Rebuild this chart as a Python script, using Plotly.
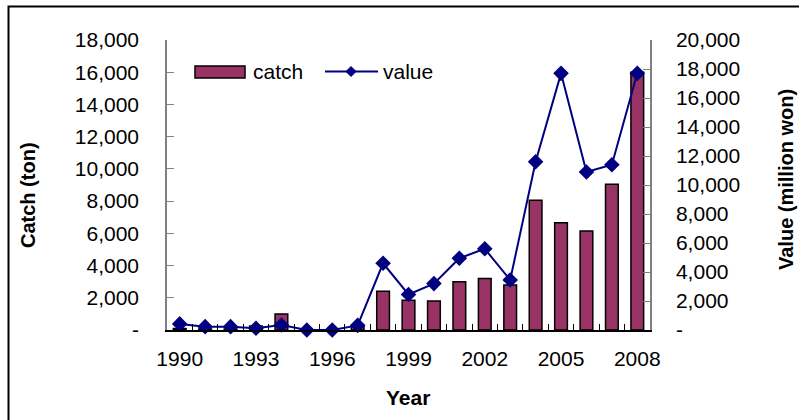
import plotly.graph_objects as go

years = list(range(1990, 2009))
catch = [100, 60, 60, 250, 1000, 0, 0, 250, 2400, 1850, 1800, 3000, 3200, 2800, 8050, 6650, 6150, 9050, 16000]
value = [420, 230, 230, 120, 340, 0, 0, 320, 4600, 2450, 3200, 4950, 5600, 3450, 11600, 17700, 10900, 11400, 17700]

x_tickvals = [1990, 1993, 1996, 1999, 2002, 2005, 2008]
x_ticktext = ["1990", "1993", "1996", "1999", "2002", "2005", "2008"]
y1_tickvals = [0, 2000, 4000, 6000, 8000, 10000, 12000, 14000, 16000, 18000]
y1_ticktext = ["-", "2,000", "4,000", "6,000", "8,000", "10,000", "12,000", "14,000", "16,000", "18,000"]
y2_tickvals = [0, 2000, 4000, 6000, 8000, 10000, 12000, 14000, 16000, 18000, 20000]
y2_ticktext = ["-", "2,000", "4,000", "6,000", "8,000", "10,000", "12,000", "14,000", "16,000", "18,000", "20,000"]

FONT = "Liberation Sans, Arial, sans-serif"
BAR_COLOR = "#993366"
LINE_COLOR = "#000080"

# plot area in pixels
L, R, T, B = 167, 650, 40, 330
W, H = 799, 420
pw, ph = R - L, B - T


def px(x):
    return (x - L) / pw


def py(y):
    return (B - y) / ph


xr = [years[0] - 0.5, years[-1] + 0.5]
boundaries = [y - 0.5 for y in years] + [years[-1] + 0.5]

fig = go.Figure()
fig.add_trace(go.Bar(
    x=years, y=catch, name="catch", width=0.5,
    marker=dict(color=BAR_COLOR, line=dict(color="black", width=1.5)),
    showlegend=False,
))
fig.add_trace(go.Scatter(
    x=years, y=value, name="value", xaxis="x2", yaxis="y2", mode="lines+markers",
    line=dict(color=LINE_COLOR, width=2),
    marker=dict(symbol="diamond", size=12, color=LINE_COLOR),
    showlegend=False, cliponaxis=False,
))

shapes = [
    # outer frame
    dict(type="rect", xref="paper", yref="paper",
         x0=px(8.5), x1=px(900), y0=py(500), y1=py(6.5),
         line=dict(color="black", width=2), layer="below"),
    # legend patch
    dict(type="rect", xref="paper", yref="paper",
         x0=px(195), x1=px(245), y0=py(78), y1=py(66),
         fillcolor=BAR_COLOR, line=dict(color="black", width=1.5)),
    # legend line
    dict(type="line", xref="paper", yref="paper",
         x0=px(325), x1=px(378), y0=py(71.5), y1=py(71.5),
         line=dict(color=LINE_COLOR, width=2)),
    # legend diamond
    dict(type="path", xref="paper", yref="paper",
         path="M {a},{b} L {c},{d} L {a},{e} L {f},{d} Z".format(
             a=px(351), b=py(66.5), c=px(356), d=py(71.5), e=py(76.5), f=px(346)),
         fillcolor=LINE_COLOR, line=dict(color=LINE_COLOR, width=1)),
]

annotations = [
    dict(text="catch", xref="paper", yref="paper", x=px(251), y=py(71),
         xanchor="left", yanchor="middle", showarrow=False,
         font=dict(family=FONT, size=21, color="black")),
    dict(text="value", xref="paper", yref="paper", x=px(381), y=py(71),
         xanchor="left", yanchor="middle", showarrow=False,
         font=dict(family=FONT, size=21, color="black")),
    dict(text="<b>Catch (ton)</b>", xref="paper", yref="paper", x=px(28), y=py(195),
         xanchor="center", yanchor="middle", textangle=-90, showarrow=False,
         font=dict(family=FONT, size=20, color="black")),
    dict(text="<b>Value (million won)</b>", xref="paper", yref="paper", x=px(786), y=py(180),
         xanchor="center", yanchor="middle", textangle=-90, showarrow=False,
         font=dict(family=FONT, size=20, color="black")),
    dict(text="<b>Year</b>", xref="paper", yref="paper", x=px(408), y=py(397),
         xanchor="center", yanchor="middle", showarrow=False,
         font=dict(family=FONT, size=21, color="black")),
]

fig.update_layout(
    width=W, height=H,
    margin=dict(l=L, r=W - R, t=T, b=H - B, pad=0),
    paper_bgcolor="white", plot_bgcolor="white",
    font=dict(family=FONT, size=21, color="black"),
    showlegend=False,
    bargap=0.5,
    shapes=shapes,
    annotations=annotations,
    xaxis=dict(
        range=xr, tickmode="array", tickvals=boundaries, ticktext=[""] * len(boundaries),
        ticks="inside", ticklen=6, tickwidth=1, tickcolor="black",
        showgrid=False, zeroline=False,
        showline=True, linecolor="black", linewidth=2,
    ),
    xaxis2=dict(
        range=xr, overlaying="x", side="bottom", anchor="y",
        tickmode="array", tickvals=x_tickvals, ticktext=x_ticktext,
        ticks="", showgrid=False, zeroline=False, showline=False,
        ticklabelstandoff=14,
        tickfont=dict(family=FONT, size=21, color="black"),
    ),
    yaxis=dict(
        range=[0, 18000], tickmode="array", tickvals=y1_tickvals, ticktext=y1_ticktext,
        ticks="inside", ticklen=7, tickcolor="#808080", tickwidth=1,
        showgrid=False, zeroline=False,
        showline=True, linecolor="#808080", linewidth=1.5,
        ticklabelstandoff=22,
        tickfont=dict(family=FONT, size=21, color="black"),
    ),
    yaxis2=dict(
        range=[0, 20000], overlaying="y", side="right", anchor="x",
        tickmode="array", tickvals=y2_tickvals, ticktext=y2_ticktext,
        ticks="inside", ticklen=7, tickcolor="#808080", tickwidth=1,
        showgrid=False, zeroline=False,
        showline=True, linecolor="#808080", linewidth=1.5,
        ticklabelstandoff=20,
        tickfont=dict(family=FONT, size=21, color="black"),
    ),
)

fig.write_html(
    "out.html",
    config={"displayModeBar": False},
    post_script="document.body.style.margin='0px';document.body.style.padding='0px';",
)
